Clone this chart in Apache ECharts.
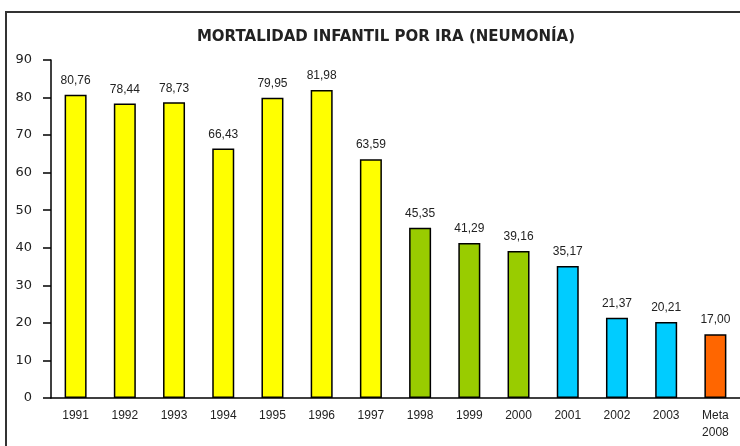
<!DOCTYPE html>
<html>
<head>
<meta charset="utf-8">
<script src="https://cdn.jsdelivr.net/npm/echarts@6/dist/echarts.min.js"></script>
<style>
  html, body { margin: 0; padding: 0; background: #fff; }
  #chart { width: 740px; height: 446px; }
</style>
</head>
<body>
<div id="chart"></div>
<script>
// datos
const categories = ['1991','1992','1993','1994','1995','1996','1997','1998','1999','2000','2001','2002','2003','Meta\n2008'];
const values = [80.76, 78.44, 78.73, 66.43, 79.95, 81.98, 63.59, 45.35, 41.29, 39.16, 35.17, 21.37, 20.21, 17.00];
const barColors = ['#FFFF00','#FFFF00','#FFFF00','#FFFF00','#FFFF00','#FFFF00','#FFFF00',
                   '#99CC00','#99CC00','#99CC00','#00CCFF','#00CCFF','#00CCFF','#FF6600'];
const yTicks = [0, 10, 20, 30, 40, 50, 60, 70, 80, 90];

let myChart = echarts.init(document.getElementById('chart'));
var option = {
    backgroundColor: '#fff',
    animation: false,
    title: {
        text: 'MORTALIDAD INFANTIL POR IRA (NEUMONÍA)',
        left: 381,
        textAlign: 'center',
        top: 25,
        textStyle: { fontFamily: 'DejaVu Sans', fontSize: 15, fontWeight: 'bold', color: '#222' }
    },
    graphic: [{
        type: 'rect',
        shape: { x: 6, y: 12, width: 800, height: 500 },
        style: { fill: 'none', stroke: '#333', lineWidth: 2 }
    }],
    grid: { left: 51, top: 60, width: 700, height: 338 },
    xAxis: {
        type: 'category',
        data: categories,
        boundaryGap: true,
        axisLine: { lineStyle: { color: '#000', width: 1.5 } },
        axisTick: { length: 6, lineStyle: { color: '#000', width: 1.5 } },
        axisLabel: { color: '#222', fontFamily: 'Liberation Sans', fontSize: 12, margin: 9, lineHeight: 17, interval: 0 }
    },
    yAxis: {
        type: 'value',
        min: yTicks[0],
        max: yTicks[yTicks.length - 1],
        interval: 10,
        splitLine: { show: false },
        axisLine: { show: true, lineStyle: { color: '#000', width: 1.5 } },
        axisTick: { show: true, length: 8, lineStyle: { color: '#000', width: 1.5 } },
        axisLabel: { color: '#222', fontFamily: 'DejaVu Sans', fontSize: 13, margin: 19 }
    },
    series: [{
        type: 'bar',
        barWidth: 22,
        data: values.map((v, i) => ({ value: v, itemStyle: { color: barColors[i] } })),
        itemStyle: { borderColor: '#000', borderWidth: 1.5 },
        label: {
            show: true,
            position: 'top',
            distance: 8,
            color: '#222',
            fontFamily: 'Liberation Sans',
            fontSize: 12,
            formatter: p => p.value.toFixed(2).replace('.', ',')
        }
    }]
};
myChart.setOption(option);
</script>
</body>
</html>
